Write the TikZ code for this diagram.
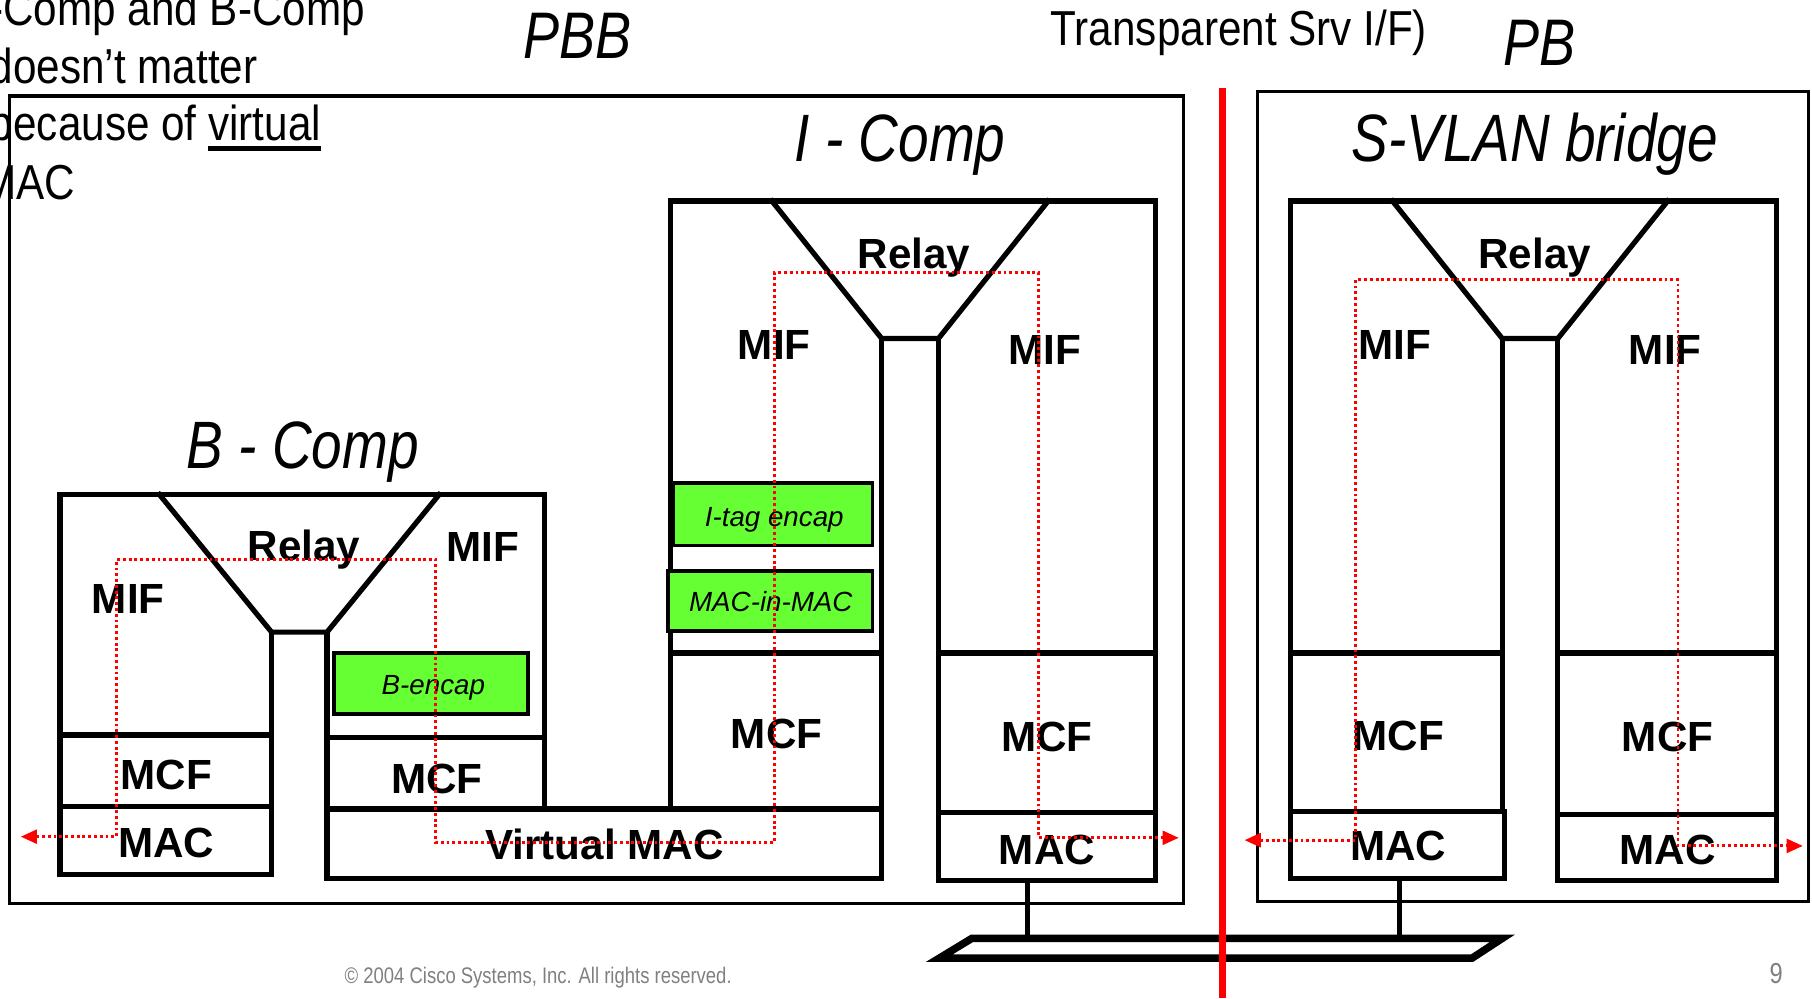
\documentclass[tikz,border=0pt]{standalone}
\usepackage{fontspec}
\setmainfont{Liberation Sans}
\newfontfamily\narrowfont[FakeStretch=0.82]{Liberation Sans}
\newfontfamily\notefont[FakeStretch=0.86]{Liberation Sans}
\usetikzlibrary{arrows.meta}
\definecolor{encgreen}{HTML}{66FF33}
\definecolor{cpgray}{HTML}{808080}
\newcommand\myul[1]{\setbox0\hbox{#1}\rlap{\rule[-8.25pt]{\wd0}{3.5pt}}\box0}
\begin{document}
\begin{tikzpicture}[x=1pt,y=-1pt,
  frame/.style={line width=3pt},
  part/.style={line width=4.5pt, line cap=rect, line join=miter},
  lbl/.style={font=\fontsize{36.5}{40}\selectfont\bfseries, inner sep=0pt, anchor=base},
  encbox/.style={draw, line width=3pt, fill=encgreen},
  enctxt/.style={font=\fontsize{24}{28}\selectfont\itshape, inner sep=0pt, anchor=base},
  ttl/.style={font=\narrowfont\itshape\fontsize{58}{64}\selectfont, inner sep=0pt, anchor=base},
  hdr/.style={font=\narrowfont\itshape\fontsize{57}{62}\selectfont, inner sep=0pt, anchor=base},
  note/.style={font=\notefont\fontsize{42.5}{50}\selectfont, inner sep=0pt, anchor=base east},
  flow/.style={draw=red, line width=2.5pt, dash pattern=on 2.5pt off 2.5pt,
    {Triangle[length=14pt,width=12pt]}-{Triangle[length=14pt,width=12pt]}},
]
\fill[white] (0,0) rectangle (1568,864);
\useasboundingbox (0,0) rectangle (1568,864);

% ---------- top texts ----------
\node[note] (n1) at (316,22) {-Comp and B-Comp};
\node[note] (n2) at (223,72) {doesn’t matter};
\node[note] (n3) at (278,122) {because of \myul{virtual}};
\node[note] (n4) at (65,173) {MAC};
\node[hdr] (pbb) at (500,51) {PBB};
\node[hdr] (pb) at (1332,57) {PB};
\node[font=\notefont\fontsize{42.5}{50}\selectfont, inner sep=0pt, anchor=base] (tsi) at (1072,39) {Transparent Srv I/F)};

% ---------- outer frames ----------
\draw[frame] (8,83) rectangle (1024,782);
\draw[frame] (1088,79) rectangle (1565,780);

% ---------- titles ----------
\node[ttl] (bcomp) at (262,405) {B - Comp};
\node[ttl] (icomp) at (779,140) {I - Comp};
\node[ttl] (svlan) at (1328,140) {S-VLAN bridge};

% ---------- B-Comp ----------
\draw[part] (52,757) -- (52,428) -- (471,428) -- (471,700);
\draw[part] (138,428) -- (235,547) -- (283,547) -- (380,428);
\draw[part] (235,547) -- (235,757) -- (52,757);
\draw[part] (52,636) -- (235,636);
\draw[part] (52,698) -- (235,698);
\draw[part] (283,547) -- (283,700);
\draw[part] (283,638) -- (471,638);
\node[encbox, minimum width=168pt, minimum height=53pt, inner sep=0pt] (benc) at (373,591.5) {};
\node[enctxt] (bencT) at (375,601) {B-encap};
% virtual MAC
\draw[part] (283,700) rectangle (763,760);

% ---------- I-Comp ----------
\draw[part] (580,700) -- (580,174) -- (1000,174) -- (1000,762);
\draw[part] (668,174) -- (763,293) -- (812,293) -- (907,174);
\draw[part] (763,293) -- (763,760);
\draw[part] (812,293) -- (812,762) -- (1000,762);
\draw[part] (580,565) -- (763,565);
\draw[part] (812,565) -- (1000,565);
\draw[part] (812,703) -- (1000,703);
\node[encbox, minimum width=172pt, minimum height=54pt, inner sep=0pt] (itag) at (669,445) {};
\node[enctxt] (itagT) at (670,456) {I-tag encap};
\node[encbox, minimum width=177pt, minimum height=52pt, inner sep=0pt] (mim) at (666.5,520) {};
\node[enctxt] (mimT) at (667,529) {MAC-in-MAC};

% ---------- S-VLAN bridge ----------
\draw[part] (1117,760) -- (1117,174) -- (1537,174) -- (1537,762);
\draw[part] (1205,174) -- (1300,293) -- (1348,293) -- (1443,174);
\draw[part] (1300,293) -- (1300,702);
\draw[part] (1348,293) -- (1348,762) -- (1537,762);
\draw[part] (1117,565) -- (1300,565);
\draw[part] (1348,565) -- (1537,565);
\draw[part] (1117,702) rectangle (1302,760);
\draw[part] (1348,705) -- (1537,705);

% ---------- bus ----------
\draw[part] (889,762) -- (889,812);
\draw[part] (1211,760) -- (1211,812);
\draw[line width=6.5pt, line join=miter, fill=white] (841,812) -- (1300,812) -- (1274,829) -- (813,829) -- cycle;

% ---------- labels ----------
\node[lbl] (brelay) at (263,485) {Relay};
\node[lbl] (bmifr) at (418,486) {MIF};
\node[lbl] (bmifl) at (111,531) {MIF};
\node[lbl] (bmcfl) at (144,683) {MCF};
\node[lbl] (bmacl) at (144,742) {MAC};
\node[lbl] (bmcfr) at (378,687) {MCF};
\node[lbl] (vmac) at (523,744) {Virtual MAC};

\node[lbl] (irelay) at (791,232) {Relay};
\node[lbl] (imifl) at (670,311) {MIF};
\node[lbl] (imifr) at (904,315) {MIF};
\node[lbl] (imcfl) at (672,648) {MCF};
\node[lbl] (imcfr) at (906,650) {MCF};
\node[lbl] (imacr) at (906,748) {MAC};

\node[lbl] (srelay) at (1328,232) {Relay};
\node[lbl] (smifl) at (1207,311) {MIF};
\node[lbl] (smifr) at (1441,315) {MIF};
\node[lbl] (smcfl) at (1210,649) {MCF};
\node[lbl] (smcfr) at (1443,650) {MCF};
\node[lbl] (smacl) at (1210,745) {MAC};
\node[lbl] (smacr) at (1443,748) {MAC};

% ---------- frame paths ----------
\coordinate (p1s) at (18,724);
\coordinate (p1e) at (1020,725);
\draw[flow] (p1s) -- (101,724) -- (101,484) -- (377,484) -- (377,729) -- (670,729)
  -- (670,236) -- (899,236) -- (899,725) -- (p1e);
\coordinate (p2s) at (1077,727);
\coordinate (p2e) at (1560,732);
\draw[flow] (p2s) -- (1173,727) -- (1173,242) -- (1452,242) -- (1452,732) -- (p2e);

% ---------- red divider ----------
\draw[red, line width=5.5pt] (1058,76) -- (1058,864);

% ---------- footer ----------
\node[font=\narrowfont\fontsize{19.5}{22}\selectfont, text=cpgray, anchor=base west, inner sep=0pt] (copy) at (298,851) {© 2004 Cisco Systems, Inc. All rights reserved.};
\node[font=\narrowfont\fontsize{25}{28}\selectfont, text=cpgray, anchor=base east, inner sep=0pt] (pg) at (1543,851) {9};
\end{tikzpicture}
\end{document}
